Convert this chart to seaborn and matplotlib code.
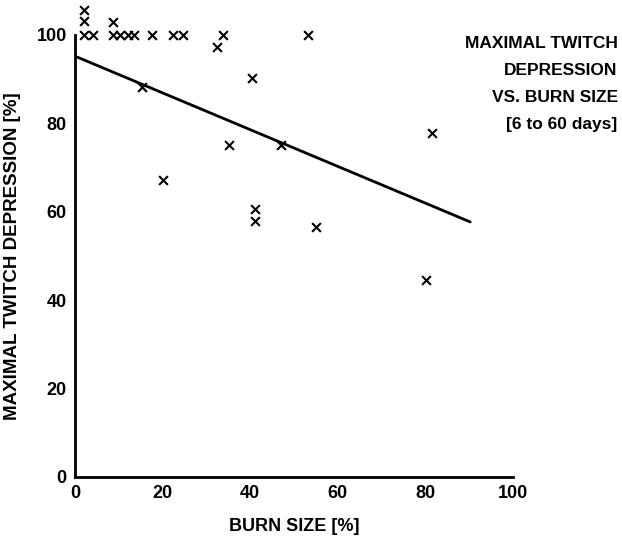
import pandas as pd
import matplotlib.pyplot as plt
import seaborn as sns

# Burn size (%) and maximal twitch depression (%)
burn_size = [2.1, 2.1, 2.1, 4.1, 8.7, 8.7, 10.3, 12.1, 13.5, 17.6, 22.4, 24.7,
             32.4, 33.8, 53.2, 15.3, 40.4, 35.2, 47.0, 20.1, 41.1, 41.1, 55.0,
             81.5, 80.1]
twitch_dep = [105.7, 103.2, 100.0, 100.0, 102.9, 100.0, 100.0, 100.0, 100.0,
              100.0, 100.0, 100.0, 97.3, 100.0, 100.0, 88.2, 90.3, 75.1, 75.1,
              67.2, 60.6, 57.9, 56.6, 77.8, 44.6]

# fitted regression line end points
fit_x = [0.5, 90.2]
fit_y = [95.0, 57.7]

xticks = [0, 20, 40, 60, 80, 100]
yticks = [0, 20, 40, 60, 80, 100]

df = pd.DataFrame({"burn": burn_size, "dep": twitch_dep})
fit = pd.DataFrame({"burn": fit_x, "dep": fit_y})

sns.set_theme(style="white", rc={"text.color": "black", "axes.labelcolor": "black",
                                 "xtick.color": "black", "ytick.color": "black"})
plt.rcParams["font.family"] = ["Liberation Sans", "DejaVu Sans"]

fig = plt.figure(figsize=(6.22, 5.38), dpi=100)
ax = fig.add_axes([0.1206, 0.1134, 0.7044, 0.8216])

sns.lineplot(data=fit, x="burn", y="dep", color="black", linewidth=2, ax=ax)
sns.scatterplot(data=df, x="burn", y="dep", marker="x", color="black",
                s=40, linewidth=1.5, clip_on=False, ax=ax)

ax.set_xlim(0, 100)
ax.set_ylim(0, 100)
ax.set_xticks(xticks)
ax.set_yticks(yticks)
ax.tick_params(length=0, labelsize=13, pad=6)
for lab in ax.get_xticklabels() + ax.get_yticklabels():
    lab.set_fontweight("bold")

sns.despine(ax=ax)
for side in ["left", "bottom"]:
    ax.spines[side].set_linewidth(2)
    ax.spines[side].set_color("black")

ax.set_xlabel("BURN SIZE [%]", fontsize=13, fontweight="bold", labelpad=11)
ax.set_ylabel("MAXIMAL TWITCH DEPRESSION [%]", fontsize=13.5,
              fontweight="bold", labelpad=11)

fig.text(0.993, 0.933, "MAXIMAL TWITCH\nDEPRESSION\nVS. BURN SIZE\n[6 to 60 days]",
         ha="right", va="top", fontsize=12.5, fontweight="bold", linespacing=2.0)

fig.savefig("out.png", dpi=100)
